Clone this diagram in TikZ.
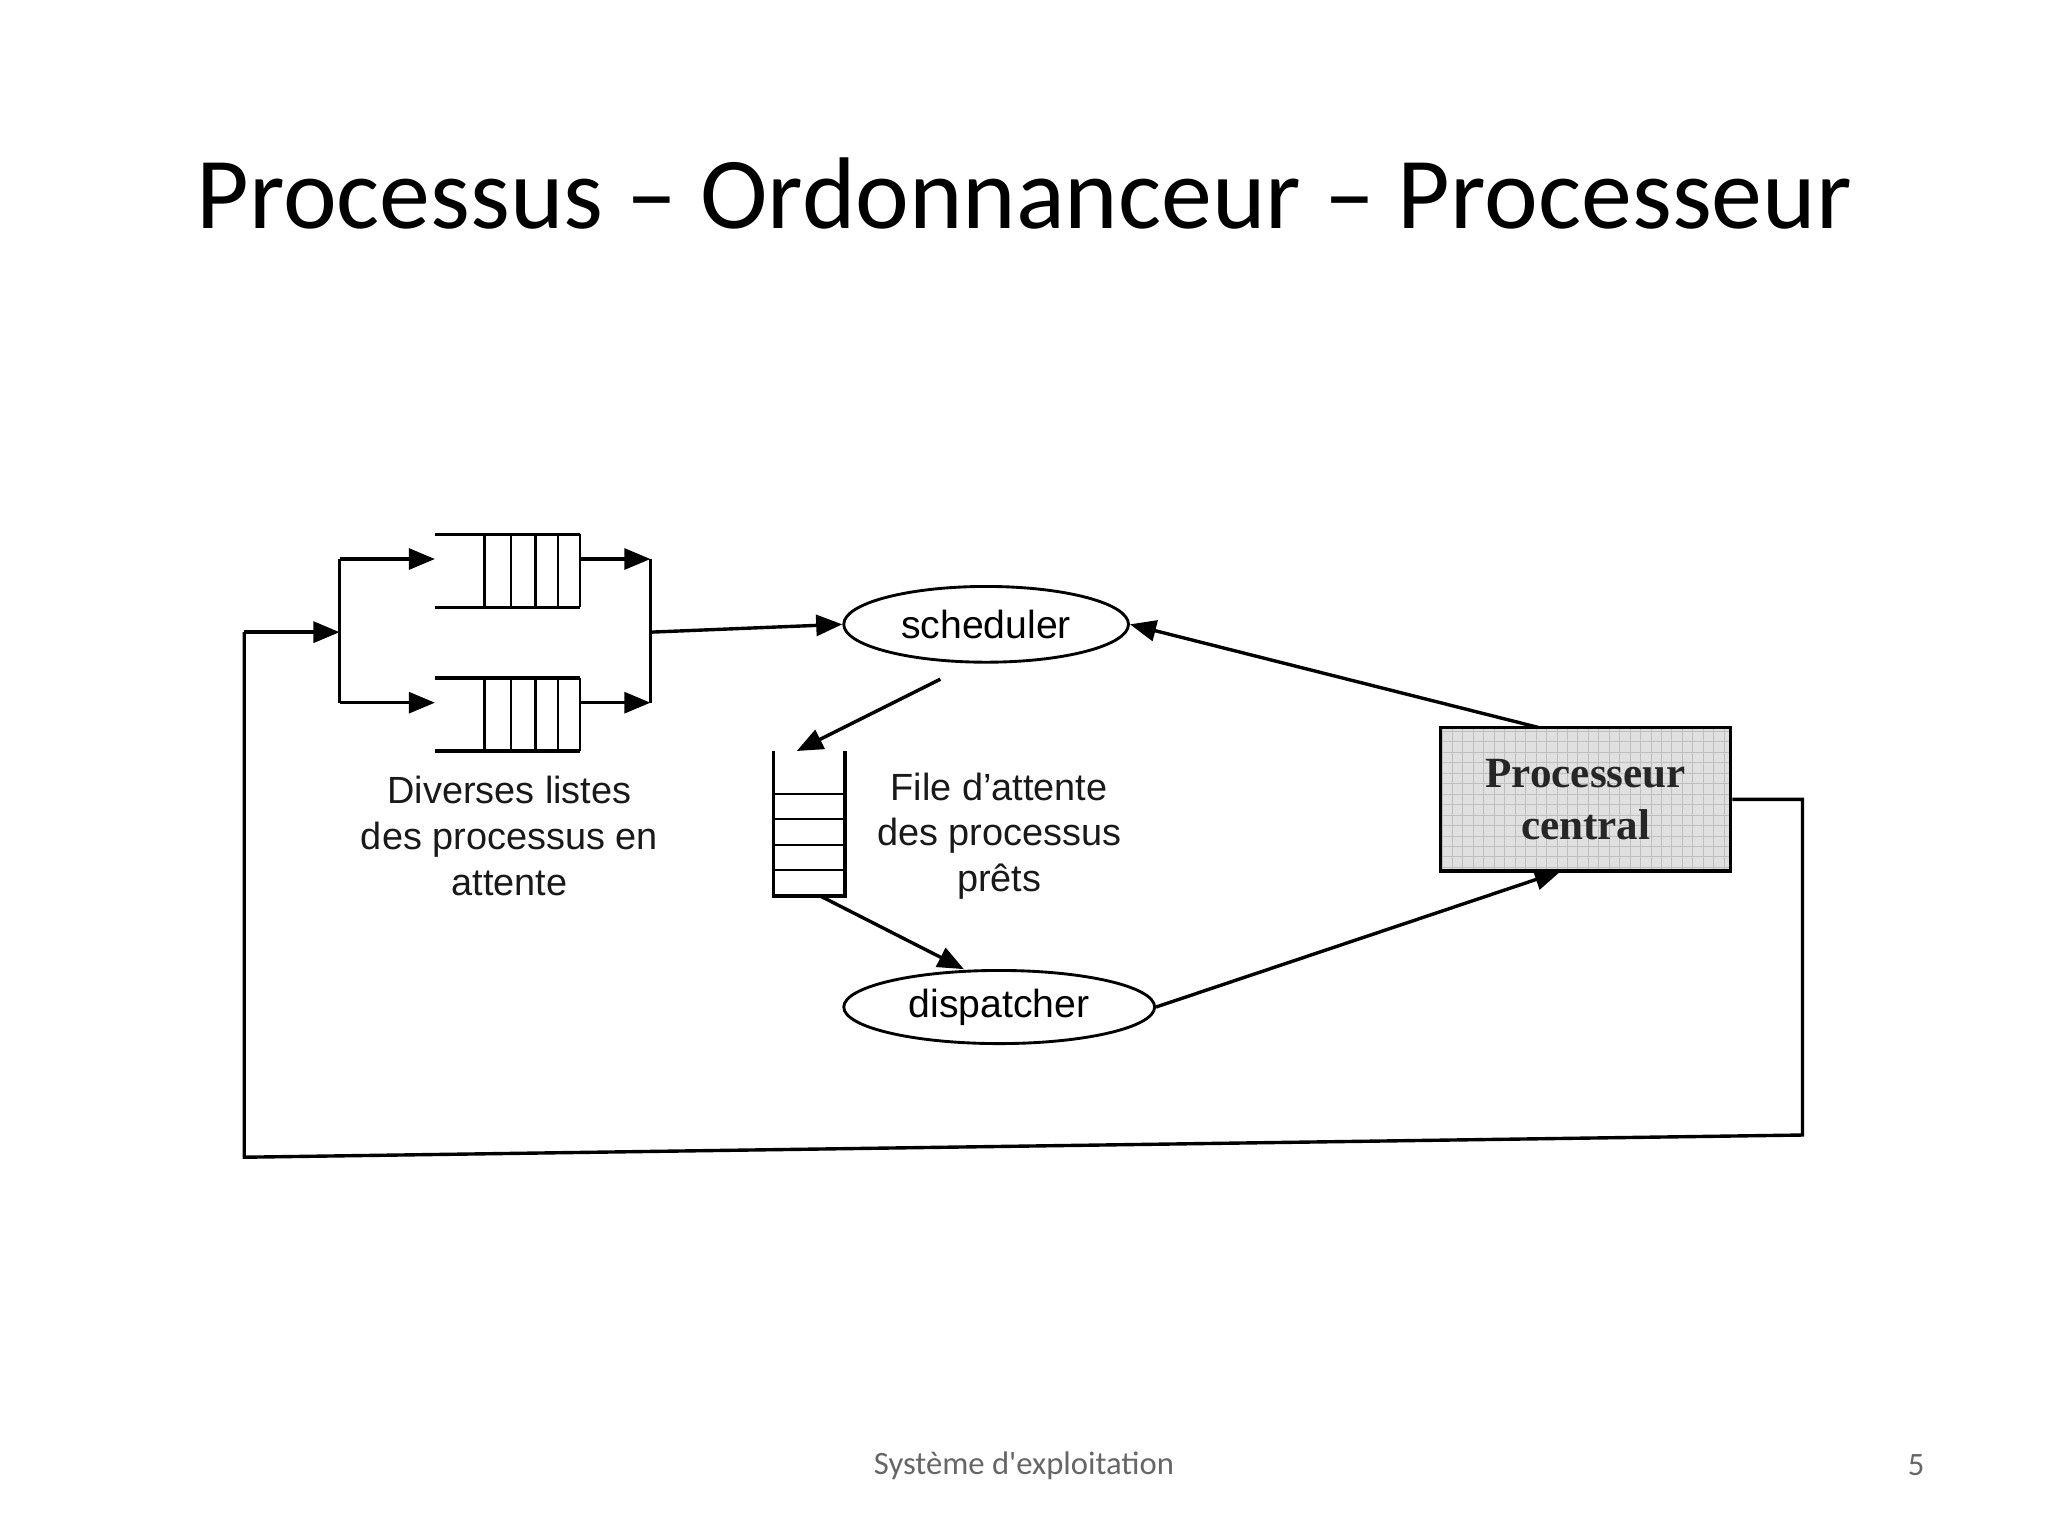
\documentclass[tikz,border=0pt]{standalone}
\usepackage{fontspec}
\setmainfont{Liberation Sans}
\newfontfamily\titlefont{Carlito}
\newfontfamily\timesf{Liberation Serif}
\usetikzlibrary{arrows.meta,shapes.geometric}
\begin{document}
\begin{tikzpicture}[x=0.5pt,y=-0.5pt,
  ln/.style={line width=1.3pt},
  arr/.style={ln,-{Triangle[length=10pt,width=8pt]}},
  ell/.style={draw,ellipse,line width=1.1pt,inner sep=0pt},
  lbl/.style={font=\fontsize{14.5}{17.5}\selectfont,align=center,text=black!90}]
\useasboundingbox (0,0) rectangle (1568,1176);
\node[font=\titlefont\fontsize{39}{46}\selectfont] (title) at (784,148) {Processus – Ordonnanceur – Processeur};
\node[font=\titlefont\fontsize{12.5}{14}\selectfont,text=black!60] (foot) at (784,1122) {Système d'exploitation};
\node[font=\titlefont\fontsize{12.5}{14}\selectfont,text=black!60] (num) at (1467,1122) {5};
% queues
\foreach \y in {409,519}{
  \draw[ln] (333,\y) -- (444,\y) (333,\y+56) -- (444,\y+56);
  \foreach \x in {371,391,410,427,444} \draw[line width=0.9pt] (\x,\y) -- (\x,\y+56);
}
\coordinate (qain) at (333,428);
\coordinate (qaout) at (444,428);
\coordinate (qbin) at (333,538);
\coordinate (qbout) at (444,538);
\coordinate (jl) at (260,484);
\coordinate (jla) at (260,428);
\coordinate (jlb) at (260,538);
\coordinate (jr) at (498,484);
\coordinate (jra) at (498,428);
\coordinate (jrb) at (498,538);
\draw[ln] (jla) -- (jlb) (jra) -- (jrb);
\draw[arr] (jla) -- (qain);
\draw[arr] (jlb) -- (qbin);
\draw[arr] (qaout) -- (jra);
\draw[arr] (qbout) -- (jrb);
\node[ell,minimum width=109pt,minimum height=29pt,font=\fontsize{15}{18}\selectfont] (sched) at (755,478) {scheduler};
\node[ell,minimum width=119pt,minimum height=28pt,font=\fontsize{15}{18}\selectfont] (disp) at (765,771) {dispatcher};
\draw[arr] (jr) -- (sched.west);
% ready stack
\draw[ln] (592,575) -- (592,686) -- (647,686) -- (647,575);
\foreach \y in {608,627,647,666} \draw[line width=0.9pt] (592,\y) -- (647,\y);
\coordinate (stop) at (610,575);
\coordinate (sbot) at (628,686);
\coordinate (sfrom) at (720,520);
\coordinate (dtop) at (738,742);
\draw[arr] (sfrom) -- (stop);
\draw[arr] (sbot) -- (dtop);
\node[lbl] (l1) at (390,640) {Diverses listes\\des processus en\\attente};
\node[lbl] (l2) at (765,640) {File d'attente\\des processus\\prêts};
% processor
\begin{scope}
\clip (1103,557) rectangle (1325,667);
\fill[black!12] (1103,557) rectangle (1325,667);
\draw[black!25,line width=0.3pt,step=4pt] (1103,557) grid (1325,667);
\end{scope}
\node[draw,line width=1.3pt,minimum width=111pt,minimum height=55pt,font=\timesf\fontsize{16.5}{20}\selectfont\bfseries,align=center,text=black!85] (cpu) at (1214,612) {Processeur\\central};
\coordinate (ctop) at (1178,557);
\coordinate (cbot) at (1195,667);
\draw[arr] (ctop) -- (sched.east);
\draw[arr] (disp.east) -- (cbot);
\coordinate (f1) at (1380,612);
\coordinate (f2) at (1380,869);
\coordinate (f3) at (187,886);
\coordinate (f4) at (187,484);
\draw[ln] (cpu.east) -- (f1) -- (f2) -- (f3) -- (f4);
\draw[arr] (f4) -- (jl);
\end{tikzpicture}
\end{document}
